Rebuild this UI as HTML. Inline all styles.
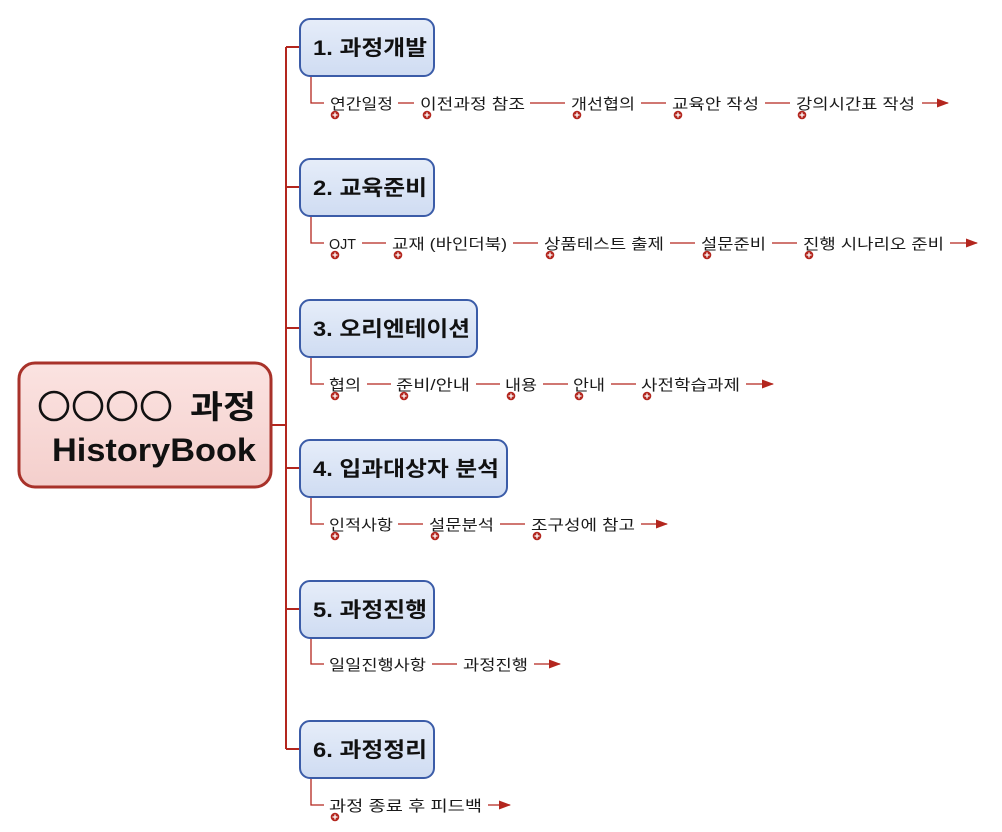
<!DOCTYPE html>
<html><head><meta charset="utf-8"><style>
html,body{margin:0;padding:0;background:#fff;}
svg{display:block;}
text{font-family:"Liberation Sans","Noto Sans CJK KR",sans-serif;}
.it{font-size:15px;fill:#1a1a1a;}
.tt{font-size:21px;font-weight:bold;fill:#111;}
</style></head><body>
<svg width="1002" height="832" viewBox="0 0 1002 832" xmlns="http://www.w3.org/2000/svg">
<defs>
<linearGradient id="gb" x1="0" y1="0" x2="0" y2="1"><stop offset="0" stop-color="#e6edf9"/><stop offset="1" stop-color="#cfdcf2"/></linearGradient>
<linearGradient id="gr" x1="0" y1="0" x2="0" y2="1"><stop offset="0" stop-color="#fbe3e1"/><stop offset="1" stop-color="#f4cfcc"/></linearGradient>
<marker id="ar" markerWidth="12" markerHeight="9" refX="11" refY="4.5" orient="auto" markerUnits="userSpaceOnUse"><path d="M0,0 L12,4.5 L0,9 z" fill="#b3261e"/></marker>
<g id="pl"><circle r="4.3" fill="#b3261e"/><path d="M-2.5,0H2.5M0,-2.5V2.5" stroke="#fff" stroke-width="1.3"/></g>
</defs>
<g stroke="#b3261e" stroke-width="2" fill="none">
<path d="M272,425 H286 M286,47 V749 M286,47 H299 M286,187 H299 M286,328 H299 M286,468 H299 M286,609 H299 M286,749 H299"/>
</g>
<g stroke="#b3261e" stroke-width="1.3" fill="none">
<path d="M311,76 V103 H324 M311,216 V243 H324 M311,357 V384 H324 M311,497 V524 H324 M311,638 V664 H324 M311,778 V805 H324"/>
<path d="M398,103H414 M530,103H565 M641,103H666 M765,103H790 M362,243H386 M513,243H538 M670,243H695 M772,243H797 M367,384H391 M476,384H500 M543,384H568 M611,384H636 M398,524H423 M500,524H525 M432,664H457"/>
<path d="M922,103H948" marker-end="url(#ar)"/>
<path d="M950,243H977" marker-end="url(#ar)"/>
<path d="M746,384H773" marker-end="url(#ar)"/>
<path d="M641,524H667" marker-end="url(#ar)"/>
<path d="M534,664H560" marker-end="url(#ar)"/>
<path d="M488,805H510" marker-end="url(#ar)"/>
</g>
<rect x="19" y="363" width="252" height="124" rx="16" fill="url(#gr)" stroke="#a8322a" stroke-width="3"/>
<g fill="none" stroke="#111" stroke-width="2.6">
<circle cx="54" cy="406" r="14"/><circle cx="88" cy="406" r="14"/><circle cx="122" cy="406" r="14"/><circle cx="156" cy="406" r="14"/>
</g>
<text x="190" y="418" style="font-size:32px;font-weight:bold" fill="#111" textLength="66" lengthAdjust="spacingAndGlyphs">과정</text>
<text x="52" y="461" style="font-size:32px;font-weight:bold" fill="#111" textLength="204" lengthAdjust="spacingAndGlyphs">HistoryBook</text>
<g stroke="#3b5ca8" stroke-width="2" fill="url(#gb)">
<rect x="300" y="19" width="134" height="57" rx="10"/>
<rect x="300" y="159" width="134" height="57" rx="10"/>
<rect x="300" y="300" width="177" height="57" rx="10"/>
<rect x="300" y="440" width="207" height="57" rx="10"/>
<rect x="300" y="581" width="134" height="57" rx="10"/>
<rect x="300" y="721" width="134" height="57" rx="10"/>
</g>
<text class="tt" x="313" y="55" textLength="114" lengthAdjust="spacingAndGlyphs">1. 과정개발</text>
<text class="tt" x="313" y="195" textLength="114" lengthAdjust="spacingAndGlyphs">2. 교육준비</text>
<text class="tt" x="313" y="336" textLength="157" lengthAdjust="spacingAndGlyphs">3. 오리엔테이션</text>
<text class="tt" x="313" y="476" textLength="186" lengthAdjust="spacingAndGlyphs">4. 입과대상자 분석</text>
<text class="tt" x="313" y="617" textLength="114" lengthAdjust="spacingAndGlyphs">5. 과정진행</text>
<text class="tt" x="313" y="757" textLength="114" lengthAdjust="spacingAndGlyphs">6. 과정정리</text>
<text class="it" x="330" y="109" textLength="63" lengthAdjust="spacingAndGlyphs">연간일정</text>
<text class="it" x="420" y="109" textLength="105" lengthAdjust="spacingAndGlyphs">이전과정 참조</text>
<text class="it" x="571" y="109" textLength="64" lengthAdjust="spacingAndGlyphs">개선협의</text>
<text class="it" x="672" y="109" textLength="87" lengthAdjust="spacingAndGlyphs">교육안 작성</text>
<text class="it" x="796" y="109" textLength="119" lengthAdjust="spacingAndGlyphs">강의시간표 작성</text>
<text class="it" x="329" y="249" textLength="27" lengthAdjust="spacingAndGlyphs">OJT</text>
<text class="it" x="392" y="249" textLength="115" lengthAdjust="spacingAndGlyphs">교재 (바인더북)</text>
<text class="it" x="544" y="249" textLength="120" lengthAdjust="spacingAndGlyphs">상품테스트 출제</text>
<text class="it" x="701" y="249" textLength="65" lengthAdjust="spacingAndGlyphs">설문준비</text>
<text class="it" x="803" y="249" textLength="141" lengthAdjust="spacingAndGlyphs">진행 시나리오 준비</text>
<text class="it" x="329" y="390" textLength="32" lengthAdjust="spacingAndGlyphs">협의</text>
<text class="it" x="396" y="390" textLength="74" lengthAdjust="spacingAndGlyphs">준비/안내</text>
<text class="it" x="505" y="390" textLength="32" lengthAdjust="spacingAndGlyphs">내용</text>
<text class="it" x="573" y="390" textLength="32" lengthAdjust="spacingAndGlyphs">안내</text>
<text class="it" x="641" y="390" textLength="99" lengthAdjust="spacingAndGlyphs">사전학습과제</text>
<text class="it" x="329" y="530" textLength="64" lengthAdjust="spacingAndGlyphs">인적사항</text>
<text class="it" x="429" y="530" textLength="65" lengthAdjust="spacingAndGlyphs">설문분석</text>
<text class="it" x="531" y="530" textLength="104" lengthAdjust="spacingAndGlyphs">조구성에 참고</text>
<text class="it" x="329" y="670" textLength="97" lengthAdjust="spacingAndGlyphs">일일진행사항</text>
<text class="it" x="463" y="670" textLength="65" lengthAdjust="spacingAndGlyphs">과정진행</text>
<text class="it" x="329" y="811" textLength="153" lengthAdjust="spacingAndGlyphs">과정 종료 후 피드백</text>
<use href="#pl" x="335" y="115"/><use href="#pl" x="427" y="115"/><use href="#pl" x="577" y="115"/><use href="#pl" x="678" y="115"/><use href="#pl" x="802" y="115"/>
<use href="#pl" x="335" y="255"/><use href="#pl" x="398" y="255"/><use href="#pl" x="550" y="255"/><use href="#pl" x="707" y="255"/><use href="#pl" x="809" y="255"/>
<use href="#pl" x="335" y="396"/><use href="#pl" x="404" y="396"/><use href="#pl" x="511" y="396"/><use href="#pl" x="579" y="396"/><use href="#pl" x="647" y="396"/>
<use href="#pl" x="335" y="536"/><use href="#pl" x="435" y="536"/><use href="#pl" x="537" y="536"/>
<use href="#pl" x="335" y="817"/>
</svg>
</body></html>
